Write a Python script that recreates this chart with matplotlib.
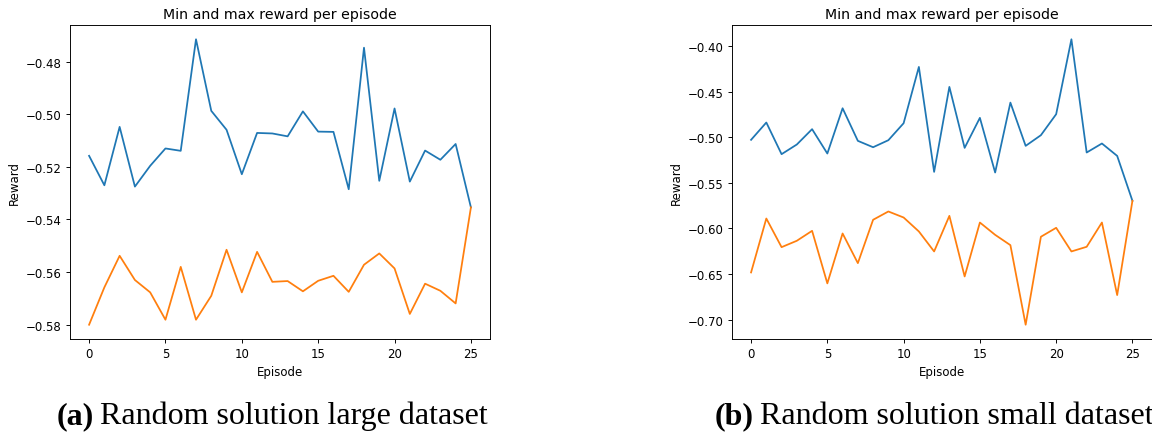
import matplotlib
matplotlib.use("Agg")
import matplotlib.pyplot as plt
import numpy as np

episodes = list(range(26))

large_max = [-0.5158, -0.5270, -0.5048, -0.5275, -0.5196, -0.5130, -0.5139, -0.4715,
             -0.4987, -0.5059, -0.5228, -0.5071, -0.5073, -0.5084, -0.4989, -0.5066,
             -0.5067, -0.5285, -0.4747, -0.5253, -0.4978, -0.5256, -0.5138, -0.5173,
             -0.5113, -0.5354]
large_min = [-0.5800, -0.5658, -0.5538, -0.5630, -0.5677, -0.5781, -0.5580, -0.5781,
             -0.5690, -0.5515, -0.5677, -0.5523, -0.5637, -0.5634, -0.5673, -0.5633,
             -0.5614, -0.5675, -0.5572, -0.5529, -0.5586, -0.5759, -0.5644, -0.5671,
             -0.5719, -0.5354]

small_max = [-0.5029, -0.4839, -0.5186, -0.5080, -0.4912, -0.5179, -0.4683, -0.5040,
             -0.5110, -0.5033, -0.4847, -0.4230, -0.5380, -0.4449, -0.5117, -0.4788,
             -0.5387, -0.4621, -0.5095, -0.4978, -0.4748, -0.3927, -0.5168, -0.5069,
             -0.5205, -0.5697]
small_min = [-0.6482, -0.5891, -0.6205, -0.6135, -0.6026, -0.6602, -0.6055, -0.6380,
             -0.5905, -0.5814, -0.5880, -0.6033, -0.6252, -0.5862, -0.6526, -0.5935,
             -0.6070, -0.6183, -0.7055, -0.6091, -0.5993, -0.6252, -0.6201, -0.5935,
             -0.6730, -0.5697]

title = "Min and max reward per episode"
xlabel = "Episode"
ylabel = "Reward"
captions = [("(a)", "Random solution large dataset"),
            ("(b)", "Random solution small dataset")]

W, H = 1152, 435
fig = plt.figure(figsize=(W / 100, H / 100), dpi=100)

s = 0.847
fs_tick = 10 * s
fs_title = 12 * s
lw = 1.5 * s

def make_ax(x0, x1, ymax_series, ymin_series, yticks, fmt):
    ax = fig.add_axes([x0 / W, 1 - 340 / H, (x1 - x0) / W, (340 - 26) / H])
    ax.plot(episodes, ymax_series, color="#1f77b4", lw=lw)
    ax.plot(episodes, ymin_series, color="#ff7f0e", lw=lw)
    ax.set_title(title, fontsize=fs_title, pad=6 * s)
    ax.set_xlabel(xlabel, fontsize=fs_tick, labelpad=4 * s)
    ax.set_ylabel(ylabel, fontsize=fs_tick, labelpad=4 * s)
    ax.set_xticks([0, 5, 10, 15, 20, 25])
    ax.set_yticks(yticks)
    ax.set_yticklabels([fmt.format(v).replace("-", "\u2212") for v in yticks])
    ax.tick_params(labelsize=fs_tick, length=3.5 * s, width=0.8 * s, pad=3.5 * s)
    for sp in ax.spines.values():
        sp.set_linewidth(0.8 * s)
    return ax

make_ax(70, 490, large_max, large_min, [-0.58, -0.56, -0.54, -0.52, -0.50, -0.48], "{:.2f}")
make_ax(732, 1151.5, small_max, small_min, [-0.70, -0.65, -0.60, -0.55, -0.50, -0.45, -0.40], "{:.2f}")

cap_y = 1 - 424 / H
cap_fs = 23
for (lab, txt), x in zip(captions, [57, 715]):
    t1 = fig.text(x / W, cap_y, lab, fontsize=cap_fs, fontweight="bold",
                  family="Liberation Serif", va="baseline", ha="left")
    fig.canvas.draw()
    bb = t1.get_window_extent()
    fig.text((bb.x1 + 6) / W, cap_y, txt, fontsize=cap_fs,
             family="Liberation Serif", va="baseline", ha="left")

fig.savefig("out.png", dpi=100)
